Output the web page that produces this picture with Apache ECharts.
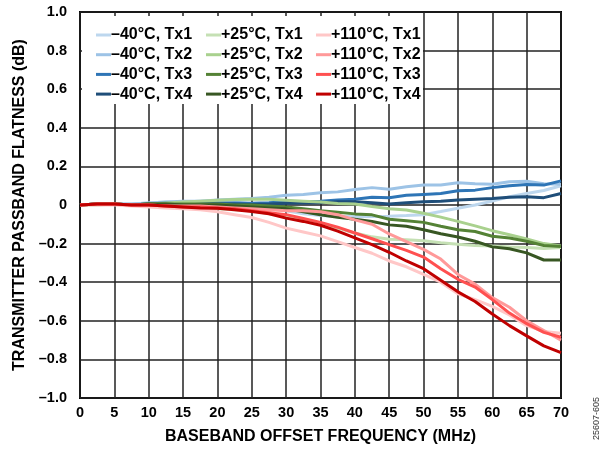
<!DOCTYPE html>
<html>
<head>
<meta charset="utf-8">
<script src="https://cdn.jsdelivr.net/npm/echarts@6/dist/echarts.min.js"></script>
<style>html,body{margin:0;padding:0;background:#fff}#c{width:605px;height:450px}</style>
</head>
<body>
<div id="c"></div>
<script>
var freq = [0,2.5,5,7.5,10,12.5,15,17.5,20,22.5,25,27.5,30,32.5,35,37.5,40,42.5,45,47.5,50,52.5,55,57.5,60,62.5,65,67.5,70];
var xTicks = [0,5,10,15,20,25,30,35,40,45,50,55,60,65,70];
var yTicks = [-1.0,-0.8,-0.6,-0.4,-0.2,0,0.2,0.4,0.6,0.8,1.0];

var m40_tx1 = [0,0.005,0.005,0.005,0.01,0.015,0.015,0.02,0.02,0.015,0.005,-0.01,-0.03,-0.045,-0.055,-0.06,-0.06,-0.06,-0.058,-0.055,-0.05,-0.034,-0.017,0,0.02,0.043,0.06,0.075,0.10];
var m40_tx2 = [0,0.005,0.005,0.005,0.01,0.015,0.02,0.02,0.026,0.03,0.034,0.04,0.05,0.055,0.063,0.068,0.08,0.09,0.082,0.094,0.104,0.104,0.115,0.11,0.108,0.121,0.123,0.11,0.108];
var m40_tx3 = [0,0.005,0.005,0,0.005,0.01,0.01,0.01,0.01,0.01,0.009,0.012,0.017,0.017,0.02,0.026,0.03,0.04,0.038,0.05,0.055,0.06,0.074,0.077,0.09,0.10,0.106,0.103,0.125];
var m40_tx4 = [0,0.005,0.005,0,0.005,0.005,0.005,0.005,0.005,0.005,0.003,0.005,0.009,0.01,0.012,0.017,0.017,0.012,0.005,0.012,0.017,0.02,0.026,0.03,0.034,0.04,0.043,0.038,0.06];

var p25_tx1 = [0,0,0.005,0,0,-0.005,-0.01,-0.015,-0.02,-0.025,-0.03,-0.045,-0.06,-0.08,-0.10,-0.12,-0.145,-0.165,-0.178,-0.18,-0.185,-0.195,-0.203,-0.21,-0.213,-0.218,-0.22,-0.225,-0.22];
var p25_tx2 = [0,0.005,0.005,0,0.005,0.01,0.015,0.02,0.025,0.028,0.03,0.03,0.025,0.02,0.015,0.008,0.005,-0.008,-0.02,-0.026,-0.043,-0.063,-0.085,-0.108,-0.133,-0.154,-0.176,-0.2,-0.212];
var p25_tx3 = [0,0.005,0.005,0,0.005,0.005,0.005,0.005,0.005,0,0,-0.005,-0.01,-0.02,-0.03,-0.038,-0.046,-0.051,-0.074,-0.082,-0.09,-0.11,-0.128,-0.137,-0.162,-0.171,-0.188,-0.21,-0.215];
var p25_tx4 = [0,0.005,0.005,0,0.005,0.005,0,0,0,-0.005,-0.01,-0.015,-0.02,-0.035,-0.05,-0.063,-0.074,-0.085,-0.103,-0.11,-0.128,-0.149,-0.166,-0.188,-0.217,-0.227,-0.248,-0.285,-0.285];

var p110_tx1 = [0,0,0,-0.005,-0.01,-0.015,-0.02,-0.025,-0.035,-0.05,-0.065,-0.09,-0.12,-0.14,-0.16,-0.19,-0.22,-0.25,-0.29,-0.32,-0.36,-0.40,-0.46,-0.49,-0.525,-0.57,-0.625,-0.655,-0.665];
var p110_tx2 = [0,0.005,0.005,0,0,-0.005,-0.005,-0.005,-0.01,-0.015,-0.02,-0.025,-0.03,-0.03,-0.035,-0.05,-0.077,-0.10,-0.15,-0.19,-0.23,-0.28,-0.36,-0.41,-0.48,-0.53,-0.60,-0.65,-0.70];
var p110_tx3 = [0,0.005,0.005,0,0,-0.005,-0.01,-0.01,-0.015,-0.02,-0.03,-0.04,-0.05,-0.07,-0.09,-0.115,-0.145,-0.175,-0.205,-0.235,-0.27,-0.33,-0.385,-0.425,-0.49,-0.56,-0.615,-0.66,-0.685];
var p110_tx4 = [0,0.005,0.005,0,0,-0.005,-0.01,-0.015,-0.017,-0.025,-0.034,-0.045,-0.068,-0.085,-0.105,-0.135,-0.17,-0.205,-0.245,-0.29,-0.33,-0.39,-0.45,-0.5,-0.565,-0.625,-0.678,-0.73,-0.765];

var names = {
  m40: ['\u201340\u00B0C, Tx1','\u201340\u00B0C, Tx2','\u201340\u00B0C, Tx3','\u201340\u00B0C, Tx4'],
  p25: ['+25\u00B0C, Tx1','+25\u00B0C, Tx2','+25\u00B0C, Tx3','+25\u00B0C, Tx4'],
  p110: ['+110\u00B0C, Tx1','+110\u00B0C, Tx2','+110\u00B0C, Tx3','+110\u00B0C, Tx4']
};
var colors = {
  m40: ['#BDD7EE','#9DC3E6','#2E75B6','#1F4E79'],
  p25: ['#C5E0B4','#A9D18E','#548235','#385723'],
  p110: ['#FFC7C7','#FF9999','#FF5050','#C00000']
};
var values = {
  m40: [m40_tx1,m40_tx2,m40_tx3,m40_tx4],
  p25: [p25_tx1,p25_tx2,p25_tx3,p25_tx4],
  p110: [p110_tx1,p110_tx2,p110_tx3,p110_tx4]
};

var FONT = 'Liberation Sans, Arial, sans-serif';
var series = [];
['m40','p25','p110'].forEach(function(g){
  for (var i=0;i<4;i++){
    series.push({
      name: names[g][i], type:'line', showSymbol:false, symbol:'none',
      color: colors[g][i],
      lineStyle:{width:3, color: colors[g][i]},
      data: freq.map(function(f,k){return [f, values[g][i][k]];}),
      z: 3
    });
  }
});

function legendFor(g, left){
  return {
    orient:'vertical', left:left, top:27, itemWidth:15, itemHeight:3, itemGap:3.7,
    icon:'rect', padding:0,
    textStyle:{fontFamily:FONT, fontWeight:'bold', fontSize:16, lineHeight:16, color:'#000', padding:[0,0,0,-5]},
    data: names[g].map(function(n){return {name:n, icon:'rect'};}),
    selectedMode:false
  };
}

function fmt(v){
  if (Math.abs(v) < 1e-9) return '0';
  var s = Math.abs(v).toFixed(1);
  return (v<0?'\u2013':'') + s;
}

var chart = echarts.init(document.getElementById('c'), null, {renderer:'canvas'});
chart.setOption({
  animation:false,
  backgroundColor:'#fff',
  grid:{left:80, right:44, top:12, bottom:52, show:true, borderColor:'#000', borderWidth:2, backgroundColor:'transparent'},
  xAxis:{
    type:'value', min:xTicks[0], max:xTicks[xTicks.length-1], interval:5,
    name:'BASEBAND OFFSET FREQUENCY (MHz)', nameLocation:'middle', nameGap:31,
    nameTextStyle:{fontFamily:FONT, fontWeight:'bold', fontSize:16, color:'#000'},
    axisLine:{show:false}, axisTick:{show:false},
    axisLabel:{fontFamily:FONT, fontWeight:'bold', fontSize:14.5, color:'#000', margin:7},
    splitLine:{show:true, lineStyle:{color:'#222', width:1.5}}
  },
  yAxis:{
    type:'value', min:yTicks[0], max:yTicks[yTicks.length-1], interval:0.2,
    name:'TRANSMITTER PASSBAND FLATNESS (dB)', nameLocation:'middle', nameGap:47,
    nameTextStyle:{fontFamily:FONT, fontWeight:'bold', fontSize:16, color:'#000'},
    axisLine:{show:false}, axisTick:{show:false},
    axisLabel:{fontFamily:FONT, fontWeight:'bold', fontSize:14.5, color:'#000', margin:13, formatter:fmt},
    splitLine:{show:true, lineStyle:{color:'#222', width:1.5}}
  },
  legend:[legendFor('m40',96), legendFor('p25',206), legendFor('p110',316)],
  graphic:[
    {type:'rect', shape:{x:82, y:16, width:341, height:88}, style:{fill:'#fff'}, z:1, silent:true},
    {type:'text', x:592, y:440, rotation:Math.PI/2, style:{text:'25607-605', fontFamily:FONT, fontSize:9, fill:'#333'}, z:5}
  ],
  series: series
});
</script>
</body>
</html>
